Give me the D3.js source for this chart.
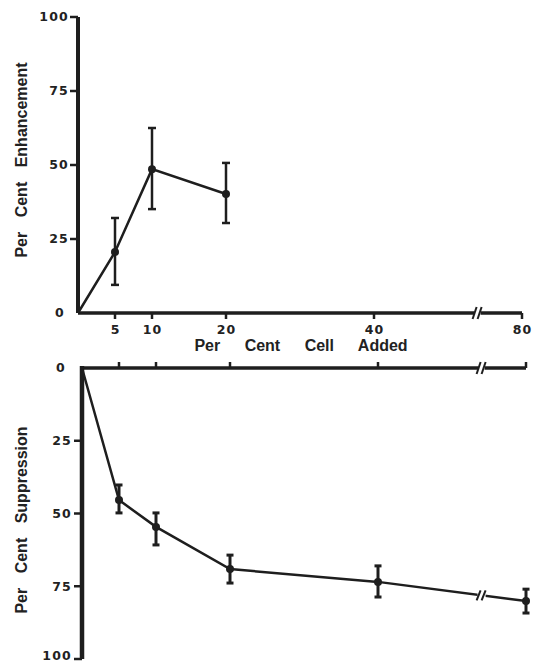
<!DOCTYPE html>
<html>
<head>
<meta charset="utf-8">
<script src="https://cdn.jsdelivr.net/npm/d3@7"></script>
<style>
  body { margin: 0; background: #fff; }
  svg { display: block; }
  .tick-label { font-family: "DejaVu Sans", sans-serif; font-weight: bold; font-size: 12.5px; letter-spacing: 1.2px; fill: #222; }
  .axis-title { font-family: "Liberation Sans", Arial, sans-serif; font-weight: bold; font-size: 16px; fill: #222; word-spacing: 10px; }
</style>
</head>
<body>
<svg id="chart"></svg>
<script>
// per cent cell added (x values)
const xTicks = [5, 10, 20, 40, 80];
const yTicks = [0, 25, 50, 75, 100];

// top panel: per cent enhancement
const enhX = [0, 5, 10, 20];
const enhMean = [0, 20.6, 48.6, 40.2];
const enhHi = [null, 32.1, 62.5, 50.7];
const enhLo = [null, 9.5, 35.1, 30.4];

// bottom panel: per cent suppression
const supX = [0, 5, 10, 20, 40, 80];
const supMean = [0, 45.4, 54.6, 69.1, 73.5, 80.1];
const supHi = [null, 40.2, 49.8, 64.3, 68.0, 76.0];
const supLo = [null, 49.8, 60.8, 73.9, 78.7, 84.2];

const breakAt = 68; // where the x axis is broken

const W = 533, H = 664;
const ink = "#1e1e1e";
const svg = d3.select("#chart").attr("width", W).attr("height", H);

// broken x axis: 0-40 linear, then compressed up to 80
const x = d3.scaleLinear().domain([0, 40, 80]).range([0, 296, 444]);

function breakMark(g, bx, by, h) {
  [-3, 2].forEach(d => {
    g.append("line")
      .attr("x1", bx + d - 2).attr("y1", by + h)
      .attr("x2", bx + d + 2).attr("y2", by - h)
      .attr("stroke", ink).attr("stroke-width", 2);
  });
}

// ---------- top panel ----------
const topG = svg.append("g").attr("transform", "translate(78,313)");
const yTop = d3.scaleLinear().domain([0, 100]).range([0, -296]);

// y axis
topG.append("line").attr("x1", 0).attr("x2", 0).attr("y1", 0).attr("y2", yTop(100))
  .attr("stroke", ink).attr("stroke-width", 4);
yTicks.forEach(t => {
  if (t > 0) {
    topG.append("line").attr("x1", -8).attr("x2", 0).attr("y1", yTop(t)).attr("y2", yTop(t))
      .attr("stroke", ink).attr("stroke-width", 2.5);
  }
  topG.append("text").attr("class", "tick-label")
    .attr("x", t === 0 ? -13 : -9).attr("y", yTop(t)).attr("dy", "0.35em")
    .attr("text-anchor", "end").text(t);
});

// x axis with break
const gap = 3;
topG.append("line").attr("x1", 0).attr("x2", x(breakAt) - gap).attr("y1", 0).attr("y2", 0)
  .attr("stroke", ink).attr("stroke-width", 3.5);
topG.append("line").attr("x1", x(breakAt) + gap).attr("x2", x(80)).attr("y1", 0).attr("y2", 0)
  .attr("stroke", ink).attr("stroke-width", 3.5);
breakMark(topG, x(breakAt), 0, 6);
xTicks.forEach(t => {
  topG.append("line").attr("x1", x(t)).attr("x2", x(t)).attr("y1", 0).attr("y2", 6)
    .attr("stroke", ink).attr("stroke-width", 2.5);
  topG.append("text").attr("class", "tick-label")
    .attr("x", x(t) + 0.6).attr("y", 21).attr("text-anchor", "middle").text(t);
});

// data
const enh = enhX.map((d, i) => ({ x: d, y: enhMean[i], hi: enhHi[i], lo: enhLo[i] }));
const lineTop = d3.line().x(d => x(d.x)).y(d => yTop(d.y));
topG.append("path").attr("d", lineTop(enh)).attr("fill", "none")
  .attr("stroke", ink).attr("stroke-width", 2.5);
enh.filter(d => d.hi !== null).forEach(d => {
  const cx = x(d.x);
  topG.append("line").attr("x1", cx).attr("x2", cx).attr("y1", yTop(d.hi)).attr("y2", yTop(d.lo))
    .attr("stroke", ink).attr("stroke-width", 2.5);
  [d.hi, d.lo].forEach(v => {
    topG.append("line").attr("x1", cx - 4).attr("x2", cx + 4).attr("y1", yTop(v)).attr("y2", yTop(v))
      .attr("stroke", ink).attr("stroke-width", 2.5);
  });
  topG.append("circle").attr("cx", cx).attr("cy", yTop(d.y)).attr("r", 4).attr("fill", ink);
});

// y title
svg.append("text").attr("class", "axis-title")
  .attr("transform", "translate(27,160) rotate(-90)")
  .attr("text-anchor", "middle").text("Per Cent Enhancement");

// x title
svg.append("text").attr("class", "axis-title")
  .attr("x", 301).attr("y", 351).attr("text-anchor", "middle")
  .style("word-spacing", "20px")
  .text("Per Cent Cell Added");

// ---------- bottom panel ----------
const botG = svg.append("g").attr("transform", "translate(82,368)");
const yBot = d3.scaleLinear().domain([0, 100]).range([0, 291]);

botG.append("line").attr("x1", 0).attr("x2", 0).attr("y1", -2).attr("y2", yBot(100))
  .attr("stroke", ink).attr("stroke-width", 4.5);
yTicks.forEach(t => {
  if (t > 0) {
    botG.append("line").attr("x1", -8).attr("x2", 0).attr("y1", yBot(t)).attr("y2", yBot(t))
      .attr("stroke", ink).attr("stroke-width", 2.5);
  }
  botG.append("text").attr("class", "tick-label")
    .attr("x", t === 0 ? -16 : -10).attr("y", t === 100 ? yBot(t) - 3 : yBot(t)).attr("dy", "0.35em")
    .attr("text-anchor", "end").text(t);
});

botG.append("line").attr("x1", -2).attr("x2", x(breakAt) - gap).attr("y1", 0).attr("y2", 0)
  .attr("stroke", ink).attr("stroke-width", 3.5);
botG.append("line").attr("x1", x(breakAt) + gap).attr("x2", x(80)).attr("y1", 0).attr("y2", 0)
  .attr("stroke", ink).attr("stroke-width", 3.5);
breakMark(botG, x(breakAt), 0, 6);
xTicks.forEach(t => {
  botG.append("line").attr("x1", x(t)).attr("x2", x(t)).attr("y1", 0).attr("y2", -6)
    .attr("stroke", ink).attr("stroke-width", 2.5);
});

const sup = supX.map((d, i) => ({ x: d, y: supMean[i], hi: supHi[i], lo: supLo[i] }));
const lineBot = d3.line().x(d => x(d.x)).y(d => yBot(d.y));
botG.append("path").attr("d", lineBot(sup)).attr("fill", "none")
  .attr("stroke", ink).attr("stroke-width", 2.5);

// break on the data line between 40 and 80
const bx = x(breakAt);
const by = yBot(sup[4].y + (sup[5].y - sup[4].y) * (breakAt - 40) / 40);
botG.append("rect").attr("x", bx - 4).attr("y", by - 5).attr("width", 8).attr("height", 10).attr("fill", "#fff");
breakMark(botG, bx, by, 5);

sup.filter(d => d.hi !== null).forEach(d => {
  const cx = x(d.x);
  botG.append("line").attr("x1", cx).attr("x2", cx).attr("y1", yBot(d.hi)).attr("y2", yBot(d.lo))
    .attr("stroke", ink).attr("stroke-width", 3);
  [d.hi, d.lo].forEach(v => {
    botG.append("line").attr("x1", cx - 3.5).attr("x2", cx + 3.5).attr("y1", yBot(v)).attr("y2", yBot(v))
      .attr("stroke", ink).attr("stroke-width", 3);
  });
  botG.append("circle").attr("cx", cx).attr("cy", yBot(d.y)).attr("r", 4).attr("fill", ink);
});

svg.append("text").attr("class", "axis-title")
  .attr("transform", "translate(27,520) rotate(-90)")
  .attr("text-anchor", "middle").text("Per Cent Suppression");
</script>
</body>
</html>
